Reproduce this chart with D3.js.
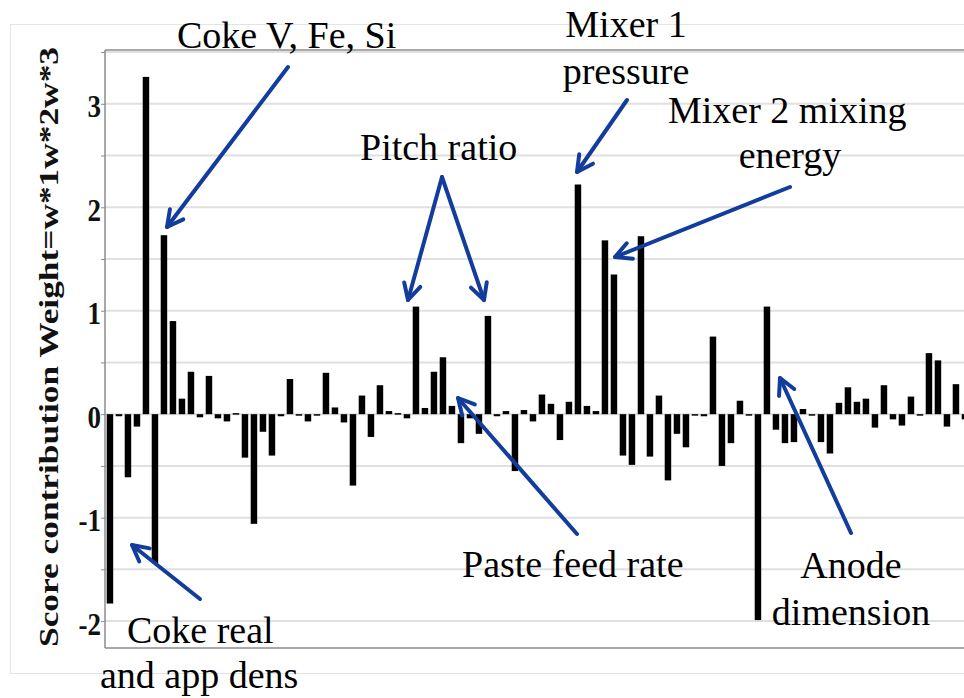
<!DOCTYPE html>
<html>
<head>
<meta charset="utf-8">
<script src="https://cdn.jsdelivr.net/npm/d3@7"></script>
<style>
  html, body { margin: 0; padding: 0; background: #fff; overflow: hidden; }
  svg { display: block; }
  svg text { font-family: "Liberation Serif", "Times New Roman", Tinos, "DejaVu Serif", serif; }
</style>
</head>
<body>
<div id="chart"></div>
<script>
// score contribution per variable (left to right)
const scores = [
  -1.83, -0.02, -0.61, -0.12, 3.26, -1.44, 1.73, 0.90, 0.15, 0.41,
  -0.03, 0.37, -0.04, -0.07, 0.01, -0.42, -1.06, -0.17, -0.40, -0.02,
  0.34, -0.01, -0.07, -0.01, 0.40, 0.065, -0.08, -0.69, 0.18, -0.22,
  0.28, 0.03, 0.01, -0.04, 1.04, 0.06, 0.41, 0.55, 0.08, -0.28,
  -0.04, -0.19, 0.95, -0.02, 0.03, -0.55, 0.04, -0.07, 0.19, 0.10,
  -0.25, 0.12, 2.22, 0.08, 0.03, 1.68, 1.35, -0.40, -0.49, 1.72,
  -0.41, 0.18, -0.64, -0.19, -0.32, -0.01, -0.02, 0.75, -0.50, -0.28,
  0.13, 0.00, -1.99, 1.04, -0.15, -0.28, -0.27, 0.05, -0.01, -0.27,
  -0.38, 0.11, 0.26, 0.12, 0.15, -0.13, 0.28, -0.05, -0.11, 0.17,
  0.00, 0.59, 0.52, -0.12, 0.29, -0.05
];
const variables = scores.map((d, i) => i + 1);

const yTickLabels = [-2, -1, 0, 1, 2, 3];
const yGrid = [-2, -1.5, -1, -0.5, 0, 0.5, 1, 1.5, 2, 2.5, 3, 3.5];
const yTitle = "Score contribution Weight=w*1w*2w*3";

// annotation text and arrows (layout, in page pixels)
const notes = [
  {lines: ["Coke V, Fe, Si"], x: 177, y: 48, anchor: "start"},
  {lines: ["Mixer 1", "pressure"], x: 626, y: 37, anchor: "middle"},
  {lines: ["Pitch ratio"], x: 360, y: 160, anchor: "start"},
  {lines: ["Mixer 2 mixing"], x: 668, y: 123, anchor: "start"},
  {lines: ["energy"], x: 790, y: 168, anchor: "middle"},
  {lines: ["Paste feed rate"], x: 462, y: 577, anchor: "start"},
  {lines: ["Coke real"], x: 127, y: 643, anchor: "start"},
  {lines: ["and app dens"], x: 100, y: 688, anchor: "start"},
  {lines: ["Anode", "dimension"], x: 851, y: 578, anchor: "middle"}
];
const arrows = [
  [288, 67, 167, 227],
  [627, 100, 577, 172],
  [790, 187, 615, 257],
  [442, 177, 408, 300],
  [442, 177, 484, 300],
  [577, 534, 458, 398],
  [200, 599, 132, 545],
  [851, 533, 780, 378]
];

const width = 964, height = 698;
const margin = {top: 50, right: 0, bottom: 50, left: 105};
const plotBottom = 648;
const serif = "'Liberation Serif', 'Times New Roman', Tinos, 'DejaVu Serif', serif";

const svg = d3.select("#chart").append("svg")
  .attr("width", width)
  .attr("height", height);

// outer light frame
svg.append("rect")
  .attr("x", 10.5).attr("y", 24.5)
  .attr("width", width + 20).attr("height", 649)
  .attr("fill", "none")
  .attr("stroke", "#e4e4e4")
  .attr("stroke-width", 1);

const x = d3.scaleBand()
  .domain(variables)
  .range([margin.left, margin.left + 9 * 96.1])
  .paddingInner(0.28)
  .paddingOuter(0.19);

const y = d3.scaleLinear()
  .domain([-2.26, 3.52])
  .range([plotBottom, margin.top]);

// grid
svg.append("g")
  .selectAll("line")
  .data(yGrid)
  .join("line")
  .attr("x1", margin.left)
  .attr("x2", width)
  .attr("y1", d => y(d))
  .attr("y2", d => y(d))
  .attr("stroke", "#e0e0e0")
  .attr("stroke-width", 2);

// plot border top / bottom
svg.append("g")
  .selectAll("line")
  .data([margin.top, plotBottom])
  .join("line")
  .attr("x1", margin.left)
  .attr("x2", width)
  .attr("y1", d => d)
  .attr("y2", d => d)
  .attr("stroke", "#8c8c8c")
  .attr("stroke-width", 1.5);

// bars
svg.append("g")
  .selectAll("rect")
  .data(scores)
  .join("rect")
  .attr("x", (d, i) => x(variables[i]))
  .attr("y", d => y(Math.max(0, d)))
  .attr("width", x.bandwidth())
  .attr("height", d => Math.max(1.5, Math.abs(y(d) - y(0))))
  .attr("fill", "#000");

// y axis
const yAxis = svg.append("g")
  .attr("transform", `translate(${margin.left},0)`)
  .call(d3.axisLeft(y).tickValues(yGrid).tickSize(4).tickFormat(""));
yAxis.select(".domain")
  .attr("d", `M0,${margin.top}V${plotBottom}`)
  .attr("stroke", "#8c8c8c")
  .attr("stroke-width", 1.5);
yAxis.selectAll(".tick line").attr("stroke", "#8c8c8c");

svg.append("g")
  .selectAll("text")
  .data(yTickLabels)
  .join("text")
  .attr("transform", d => `translate(101,${y(d) + 3}) scale(1,1.15)`)
  .attr("text-anchor", "end")
  .attr("dominant-baseline", "central")
  .attr("font-family", serif)
  .attr("font-size", 27)
  .attr("font-weight", "bold")
  .attr("fill", "#111")
  .text(d => d);

svg.append("text")
  .attr("transform", `translate(58,${(margin.top + plotBottom) / 2 - 2}) rotate(-90)`)
  .attr("text-anchor", "middle")
  .attr("font-family", serif)
  .attr("font-size", 27)
  .attr("font-weight", "bold")
  .attr("textLength", 600)
  .attr("lengthAdjust", "spacingAndGlyphs")
  .attr("fill", "#111")
  .text(yTitle);

// arrows
const blue = "#133d9c";
const ag = svg.append("g")
  .attr("stroke", blue)
  .attr("stroke-width", 4)
  .attr("fill", "none")
  .attr("stroke-linecap", "round")
  .attr("stroke-linejoin", "round");

arrows.forEach(a => {
  const [x1, y1, x2, y2] = a;
  const ang = Math.atan2(y2 - y1, x2 - x1);
  const len = 18, spread = Math.PI / 6.5;
  const w1 = [x2 - len * Math.cos(ang - spread), y2 - len * Math.sin(ang - spread)];
  const w2 = [x2 - len * Math.cos(ang + spread), y2 - len * Math.sin(ang + spread)];
  ag.append("line")
    .attr("x1", x1).attr("y1", y1)
    .attr("x2", x2).attr("y2", y2);
  ag.append("path")
    .attr("d", `M${w1[0]},${w1[1]}L${x2},${y2}L${w2[0]},${w2[1]}`);
});

// annotation labels
notes.forEach(n => {
  const t = svg.append("text")
    .attr("x", n.x)
    .attr("y", n.y)
    .attr("text-anchor", n.anchor)
    .attr("font-family", serif)
    .attr("font-size", 38)
    .attr("fill", "#000");
  n.lines.forEach((s, k) => {
    t.append("tspan")
      .attr("x", n.x)
      .attr("dy", k === 0 ? 0 : 47)
      .text(s);
  });
});
</script>
</body>
</html>
